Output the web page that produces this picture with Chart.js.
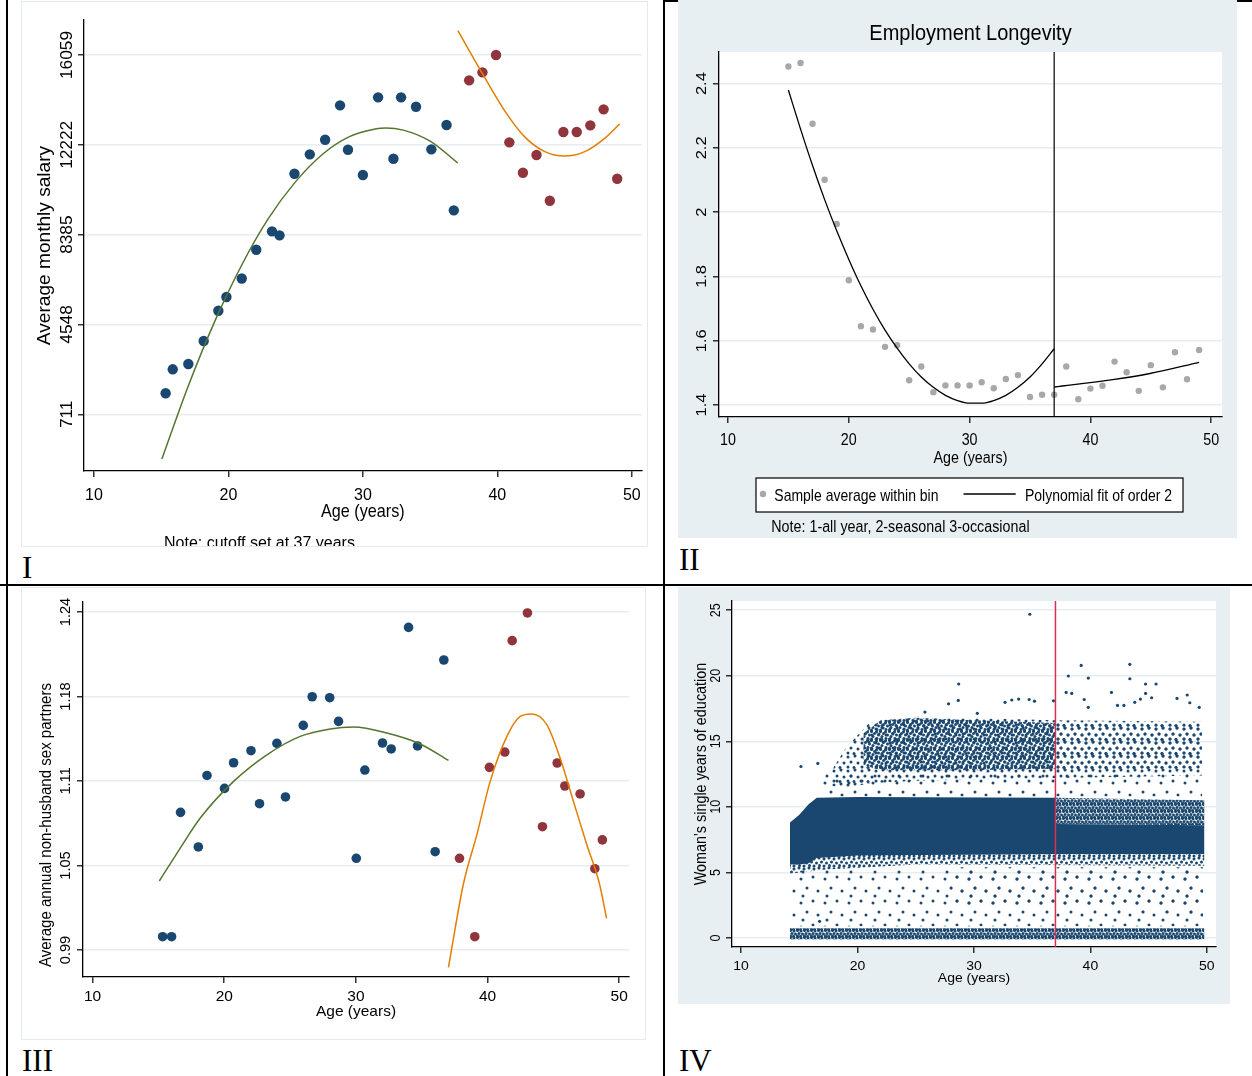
<!DOCTYPE html>
<html>
<head>
<meta charset="utf-8">
<title>Outcomes by age around the 37-year cutoff</title>
<script src="https://cdn.jsdelivr.net/npm/chart.js@4.4.1/dist/chart.umd.min.js"></script>
<style>
  html, body { margin: 0; padding: 0; background: #fff; }
  #sheet { position: relative; width: 1252px; height: 1076px; overflow: hidden; }
  .rule { position: absolute; background: #000; }
  canvas { position: absolute; }
  .plain { background: #fff; outline: 1px solid #e4ebee; }
  .tinted { background: #e8eff2; }
  .tag { position: absolute; font: 31px/1 'Liberation Serif', 'Times New Roman', serif; color: #000; }
</style>
</head>
<body>
<div id="sheet">
  <div class="rule" style="left:6px; top:0; width:2px; height:1076px"></div>
  <div class="rule" style="left:663px; top:0; width:2px; height:1076px"></div>
  <div class="rule" style="left:663px; top:0; width:589px; height:2px"></div>
  <div class="rule" style="left:0; top:584px; width:1252px; height:2px"></div>

  <canvas id="salary" class="plain" width="625" height="544" style="left:22px; top:2px"></canvas>
  <canvas id="longevity" class="tinted" width="559" height="538" style="left:678px; top:0"></canvas>
  <canvas id="partners" class="plain" width="623" height="451" style="left:22px; top:588px"></canvas>
  <canvas id="education" class="tinted" width="552" height="417" style="left:678px; top:587px"></canvas>

  <div class="tag" style="left:22px; top:552px">I</div>
  <div class="tag" style="left:679px; top:544px">II</div>
  <div class="tag" style="left:22px; top:1045px">III</div>
  <div class="tag" style="left:679px; top:1045px">IV</div>
</div>

<script>
// shared x axis (age in years)
var ageTicks = [10, 20, 30, 40, 50];
var ageLabels = ['10', '20', '30', '40', '50'];

// I - average monthly salary
var salaryTicks = [711, 4548, 8385, 12222, 16059];
var salaryAgesBefore = [15.33, 15.86, 17.02, 18.16, 19.25, 19.85, 20.99, 22.07, 23.24, 23.8, 24.91, 26.05, 27.19, 28.3, 28.89, 30.0, 31.13, 32.27, 32.84, 33.95, 35.09, 36.22, 36.76];
var salaryBefore = [1608, 2633, 2859, 3842, 5136, 5721, 6511, 7741, 8527, 8356, 10987, 11816, 12439, 13908, 12012, 10932, 14250, 11628, 14250, 13849, 12029, 13067, 9424];
var salaryAgesAfter = [37.9, 38.89, 39.9, 40.89, 41.9, 42.91, 43.9, 44.91, 45.9, 46.91, 47.9, 48.91];
var salaryAfter = [14976, 15318, 16057, 12328, 11030, 11786, 9834, 12768, 12768, 13054, 13738, 10774];
var salaryFitBefore = [[15.05, -1200], [17, 1900], [19, 4700], [21, 7100], [23, 9100], [25, 10650], [27, 11820], [29, 12570], [31, 12910], [31.7, 12940], [33, 12850], [35, 12380], [37.05, 11450]];
var salaryFitAfter = [[37.06, 17100], [38.9, 15250], [40.57, 13650], [42.05, 12550], [43.53, 11930], [45, 11740], [46.5, 11930], [47.98, 12500], [49.09, 13110]];

// II - employment longevity
var longevityTicks = [1.4, 1.6, 1.8, 2, 2.2, 2.4];
var longevityLabels = ['1.4', '1.6', '1.8', '2', '2.2', '2.4'];
var longevityAges = [15, 16, 17, 18, 19, 20, 21, 22, 23, 24, 25, 26, 27, 28, 29, 30, 31, 32, 33, 34, 35, 36, 37, 38, 39, 40, 41, 42, 43, 44, 45, 46, 47, 48, 49];
var longevity = [2.453, 2.464, 2.275, 2.101, 1.963, 1.788, 1.645, 1.635, 1.581, 1.586, 1.477, 1.520, 1.440, 1.461, 1.461, 1.461, 1.471, 1.452, 1.481, 1.493, 1.425, 1.432, 1.432, 1.520, 1.418, 1.451, 1.460, 1.535, 1.502, 1.444, 1.524, 1.455, 1.564, 1.480, 1.571];
var longevityFitBefore = [[15, 2.38], [16, 2.259], [17, 2.145], [18, 2.039], [19, 1.942], [20, 1.853], [21, 1.771], [22, 1.698], [23, 1.633], [24, 1.577], [25, 1.528], [26, 1.487],
  [27, 1.455], [28, 1.43], [29, 1.414], [30, 1.406], [31, 1.406], [32, 1.414], [33, 1.43], [34, 1.455], [35, 1.487], [36, 1.528], [37, 1.575]];
var longevityFitAfter = [[37, 1.456], [41.85, 1.479], [44.93, 1.498], [49, 1.533]];

// III - non-husband sex partners
var partnerTicks = [0.99, 1.0525, 1.115, 1.1775, 1.24];
var partnerLabels = ['0.99', '1.05', '1.11', '1.18', '1.24'];
var partnerAgesBefore = [15.32, 16.0, 16.68, 18.03, 18.69, 20.02, 20.71, 22.03, 22.68, 24.0, 24.65, 26.0, 26.68, 28.01, 28.68, 30.03, 30.68, 32.02, 32.68, 34.0, 34.68, 36.02, 36.68];
var partnersBefore = [0.9998, 0.9998, 1.0918, 1.0662, 1.1191, 1.1095, 1.1285, 1.1374, 1.0982, 1.1428, 1.1032, 1.1561, 1.1773, 1.1766, 1.1591, 1.0578, 1.1231, 1.1431, 1.1387, 1.2286, 1.1409, 1.0627, 1.2045];
var partnerAgesAfter = [37.87, 39.03, 40.14, 41.31, 41.87, 43.03, 44.17, 45.29, 45.87, 47.03, 48.15, 48.72];
var partnersAfter = [1.0578, 0.9998, 1.1251, 1.1364, 1.2188, 1.2393, 1.0812, 1.1283, 1.1113, 1.1054, 1.0501, 1.0714];
var partnerFitBefore = [[15.07, 1.041], [16.66, 1.0654], [18.18, 1.0876], [20.71, 1.1147], [23.24, 1.1344], [25.77, 1.148], [28.05, 1.1535], [29.82, 1.1549], [32.35, 1.1505], [34.88, 1.1424], [37.03, 1.1302]];
var partnerFitAfter = [[37.03, 0.9771], [38.17, 1.039], [39.19, 1.0753], [40.2, 1.1147], [41.47, 1.148], [42.48, 1.1628], [43.36, 1.1646], [44.5, 1.1567], [45.51, 1.132], [46.52, 1.10], [47.54, 1.0679], [48.5, 1.039], [49.04, 1.0134]];

// IV - years of education; the cloud is too dense to read dot by dot,
// so it is kept as bands [age, lower, upper] plus the stray points
var eduTicks = [0, 5, 10, 15, 20, 25];
var eduLabels = ['0', '5', '10', '15', '20', '25'];
var eduZeroRow = [[14.2, -0.12, 0.75], [49.8, -0.12, 0.75]];
var eduLowSpread = [[14.3, 0.9, 5.2], [49.7, 0.9, 5.2]];
var eduLowSpreadLate = [[28, 2.5, 5.4], [49.7, 1.8, 5.4]];
var eduCoreFringe = [[14.2, 4.9, 6.6], [17, 5.2, 6.6], [25, 5.6, 6.6], [49.8, 5.5, 6.6]];
var eduCoreEarly = [[14.2, 5.6, 8.8], [15, 5.6, 9.4], [15.8, 5.7, 10.2], [16.5, 6.1, 10.7], [20, 6.3, 10.75], [37, 6.4, 10.7]];
var eduCoreLate = [[37, 6.4, 8.7], [49.8, 6.4, 8.6]];
var eduUpperLate = [[37, 8.7, 10.7], [49.8, 8.6, 10.5]];
var eduHalo = [[17, 10.8, 12.6], [49.6, 10.8, 12.6]];
var eduClusterOuter = [[17.8, 11.6, 12.8], [19, 11.4, 14.5], [21, 11.8, 16.4], [25, 12.0, 16.9], [37, 12.2, 16.6], [49.6, 12.4, 16.5]];
var eduClusterCore = [[20.5, 13.2, 15.6], [22, 12.8, 16.6], [25, 12.8, 16.8], [30, 12.8, 16.6], [37, 12.9, 16.4]];
var eduClusterLate = [[37, 12.8, 16.4], [49.6, 13.0, 16.2]];
var eduStrays = [[34.8, 24.69], [39.21, 20.79], [43.39, 20.87], [38.11, 19.98], [39.82, 19.82], [43.39, 19.77], [28.69, 19.37], [45.64, 19.37], [44.74, 19.37],
  [37.92, 18.73], [38.4, 18.65], [41.81, 18.73], [47.44, 18.27], [48.32, 18.53], [27.82, 17.86], [28.65, 18.12], [32.67, 17.97], [33.25, 18.15],
  [33.84, 18.22], [34.74, 18.19], [35.2, 18.06], [36.83, 18.09], [39.47, 18.19], [39.82, 17.59], [42.33, 17.74], [42.88, 17.74], [43.81, 17.97],
  [44.3, 18.22], [44.74, 18.65], [45.26, 18.32], [48.54, 17.94], [49.35, 17.59], [25.79, 17.23], [30.29, 17.13], [15.14, 13.08], [16.59, 13.31], [16.74, 1.27]];

var CUTOFF = 37;

var FONT = "'Liberation Sans', Arial, Helvetica, sans-serif";
var NAVY = '#1a476f', MAROON = '#90353b', FOREST = '#55752f', ORANGE = '#e37e00', GRAY = '#a8a8a8';
var GRID = '#e7eef1';

// text is drawn by hand: the source pictures were stretched a bit
function putText(ctx, str, x, y, size, stretch, rotated, align) {
  ctx.save();
  ctx.translate(x, y);
  ctx.scale(1, stretch);
  if (rotated) ctx.rotate(-Math.PI / 2);
  ctx.font = size + 'px ' + FONT;
  ctx.textAlign = align || 'center';
  ctx.textBaseline = 'alphabetic';
  ctx.fillStyle = '#000';
  ctx.fillText(str, 0, 0);
  ctx.restore();
}

function panelText(spec) {
  return {
    id: 'panelText',
    beforeDraw: function(chart) {
      if (!spec.plotWhite) return;
      var a = chart.chartArea, ctx = chart.ctx;
      ctx.save();
      ctx.fillStyle = '#fff';
      ctx.fillRect(a.left, a.top, a.right - a.left, a.bottom - a.top);
      ctx.restore();
    },
    afterDatasetsDraw: function(chart) {
      if (spec.cutoffColor == null) return;
      var a = chart.chartArea, ctx = chart.ctx;
      var px = chart.scales.x.getPixelForValue(CUTOFF);
      ctx.save();
      ctx.strokeStyle = spec.cutoffColor;
      ctx.lineWidth = spec.cutoffWidth;
      ctx.beginPath();
      ctx.moveTo(px, a.top);
      ctx.lineTo(px, a.bottom);
      ctx.stroke();
      ctx.restore();
    },
    afterDraw: function(chart) {
      var ctx = chart.ctx, a = chart.chartArea, xs = chart.scales.x, ys = chart.scales.y;
      ys.ticks.forEach(function(t, i) {
        putText(ctx, spec.yLabels[i], a.left - spec.yGap, ys.getPixelForValue(t.value), spec.size, spec.stretch, true);
      });
      xs.ticks.forEach(function(t, i) {
        putText(ctx, ageLabels[i], xs.getPixelForValue(t.value), a.bottom + spec.xGap, spec.size, spec.stretch, false);
      });
      if (spec.yTitle) {
        var mid = spec.yTitle.mid != null ? spec.yTitle.mid : (a.top + a.bottom) / 2;
        putText(ctx, spec.yTitle.text, a.left - spec.yTitle.gap, mid, spec.yTitle.size, spec.stretch, true);
      }
      putText(ctx, 'Age (years)', (a.left + a.right) / 2, a.bottom + spec.xTitle.gap, spec.xTitle.size, spec.stretch, false);
      (spec.notes || []).forEach(function(n) {
        putText(ctx, n.text, n.x, n.y, n.size, n.stretch || spec.stretch, false, n.align);
      });
      if (spec.extra) spec.extra(ctx, chart);
    }
  };
}

function axis(range, ticks, extent, gridOn) {
  return {
    type: 'linear',
    min: range[0],
    max: range[1],
    afterBuildTicks: function(s) { s.ticks = ticks.map(function(v) { return { value: v }; }); },
    afterFit: function(s) { if (s.isHorizontal()) s.height = extent; else s.width = extent; },
    ticks: { display: false },
    grid: { drawOnChartArea: gridOn, color: GRID, lineWidth: 1.6, tickLength: 6, tickColor: '#000', tickWidth: 1.2 },
    border: { color: '#000', width: 1.3 }
  };
}

function fitLine(points, color, width) {
  return {
    data: points.map(function(p) { return { x: p[0], y: p[1] }; }),
    borderColor: color, borderWidth: width,
    pointRadius: 0, cubicInterpolationMode: 'monotone', fill: false
  };
}

function dots(ages, vals, color, r) {
  return {
    data: ages.map(function(a, i) { return { x: a, y: vals[i] }; }),
    showLine: false, pointRadius: r, pointBackgroundColor: color,
    pointBorderWidth: 0, borderColor: color
  };
}

function makeChart(id, spec, xRange, yRange, yTicks, datasets) {
  return new Chart(document.getElementById(id), {
    type: 'line',
    data: { datasets: datasets },
    options: {
      responsive: false,
      animation: false,
      events: [],
      layout: { padding: { left: 0, top: spec.top, right: spec.right, bottom: 0 } },
      plugins: { legend: { display: false }, tooltip: { enabled: false } },
      scales: {
        x: axis(xRange, ageTicks, spec.xh, false),
        y: axis(yRange, yTicks, spec.yw, true)
      }
    },
    plugins: [panelText(spec)]
  });
}

// I
makeChart('salary', {
  top: 18, right: 3, yw: 62, xh: 75,
  size: 16, stretch: 1.08, yGap: 12.3, xGap: 29,
  yLabels: salaryTicks.map(String),
  yTitle: { text: 'Average monthly salary', gap: 34.4, size: 17.7 },
  xTitle: { gap: 46, size: 16.2 },
  notes: [{ text: 'Note: cutoff set at 37 years', x: 142, y: 545.6, size: 16, align: 'left' }]
}, [9.26, 50.74], [-1711, 17554], salaryTicks, [
  fitLine(salaryFitBefore, FOREST, 1.5),
  fitLine(salaryFitAfter, ORANGE, 1.5),
  dots(salaryAgesBefore, salaryBefore, NAVY, 5.2),
  dots(salaryAgesAfter, salaryAfter, MAROON, 5.2)
]);

// II
makeChart('longevity', {
  top: 52, right: 15, yw: 41, xh: 121,
  size: 14.3, stretch: 1.15, yGap: 12.6, xGap: 28.3,
  plotWhite: true, cutoffColor: '#000', cutoffWidth: 1.2,
  yLabels: longevityLabels,
  xTitle: { gap: 45.8, size: 14.3 },
  notes: [
    { text: 'Employment Longevity', x: 292.5, y: 40, size: 20, stretch: 1.07 },
    { text: 'Note: 1-all year, 2-seasonal 3-occasional', x: 93.3, y: 531.5, size: 14.3, align: 'left' }
  ],
  extra: function(ctx) {
    ctx.save();
    ctx.fillStyle = '#fff';
    ctx.fillRect(78, 478, 427, 34);
    ctx.strokeStyle = '#000';
    ctx.lineWidth = 1.2;
    ctx.strokeRect(78, 478, 427, 34);
    ctx.fillStyle = GRAY;
    ctx.beginPath();
    ctx.arc(85, 494, 3.2, 0, 2 * Math.PI);
    ctx.fill();
    ctx.lineWidth = 1.3;
    ctx.beginPath();
    ctx.moveTo(285.5, 494);
    ctx.lineTo(337.7, 494);
    ctx.stroke();
    ctx.restore();
    putText(ctx, 'Sample average within bin', 96.3, 500.5, 14, 1.15, false, 'left');
    putText(ctx, 'Polynomial fit of order 2', 347, 500.5, 14, 1.15, false, 'left');
  }
}, [9.255, 50.894], [1.3627, 2.4983], longevityTicks, [
  fitLine(longevityFitBefore, '#000', 1.3),
  fitLine(longevityFitAfter, '#000', 1.3),
  dots(longevityAges, longevity, GRAY, 3.2)
]);

// III
makeChart('partners', {
  top: 14, right: 16, yw: 61, xh: 62,
  size: 15.5, stretch: 0.94, yGap: 12.7, xGap: 24.4,
  yLabels: partnerLabels,
  yTitle: { text: 'Average annual non-husband sex partners', gap: 31.9, size: 16, mid: 237 },
  xTitle: { gap: 39, size: 15.5 }
}, [9.271, 50.744], [0.970, 1.2474], partnerTicks, [
  fitLine(partnerFitBefore, FOREST, 1.5),
  fitLine(partnerFitAfter, ORANGE, 1.5),
  dots(partnerAgesBefore, partnersBefore, NAVY, 4.8),
  dots(partnerAgesAfter, partnersAfter, MAROON, 4.8)
]);

// IV - dot textures for the dense cloud
var eduCanvas = document.getElementById('education');
var eduCtx = eduCanvas.getContext('2d');
var TILES = {
  heavy:  { size: 7,  dots: [[0.5, 0.5], [4, 1], [2, 3.5], [5.5, 4], [0.5, 6], [3.5, 6.3]] },
  dense:  { size: 9,  dots: [[0.5, 1], [4.5, 0.5], [7.5, 2.5], [2.5, 4], [6, 5.5], [1, 7.5], [4.5, 8]] },
  medium: { size: 10, dots: [[1, 1], [6, 2], [3.5, 5], [8.5, 6], [1.5, 8.5], [6, 9]] },
  light:  { size: 14, dots: [[2, 2], [9, 1], [5, 7], [12, 8], [2, 12], [8, 12.5]] },
  sparse: { size: 24, dots: [[3, 4], [15, 2], [9, 13], [20, 16], [5, 21]] }
};
function dotPattern(name) {
  var t = TILES[name];
  var c = document.createElement('canvas');
  c.width = t.size; c.height = t.size;
  var g = c.getContext('2d');
  g.fillStyle = NAVY;
  t.dots.forEach(function(d) {
    for (var i = -1; i <= 1; i++) {
      for (var j = -1; j <= 1; j++) {
        g.beginPath();
        g.arc(d[0] + i * t.size, d[1] + j * t.size, 1.5, 0, 2 * Math.PI);
        g.fill();
      }
    }
  });
  return eduCtx.createPattern(c, 'repeat');
}

function band(rows, fillStyle) {
  var lower = {
    data: rows.map(function(r) { return { x: r[0], y: r[1] }; }),
    pointRadius: 0, borderWidth: 0, borderColor: 'rgba(0,0,0,0)', fill: false
  };
  var upper = {
    data: rows.map(function(r) { return { x: r[0], y: r[2] }; }),
    pointRadius: 0, borderWidth: 0, borderColor: 'rgba(0,0,0,0)',
    fill: '-1', backgroundColor: fillStyle
  };
  return [lower, upper];
}

var eduSets = [dots(eduStrays.map(function(p) { return p[0]; }), eduStrays.map(function(p) { return p[1]; }), NAVY, 1.6)]
  .concat(band(eduClusterCore, dotPattern('dense')))
  .concat(band(eduClusterLate, dotPattern('light')))
  .concat(band(eduClusterOuter, dotPattern('light')))
  .concat(band(eduHalo, dotPattern('sparse')))
  .concat(band(eduCoreEarly, NAVY))
  .concat(band(eduCoreLate, NAVY))
  .concat(band(eduUpperLate, dotPattern('heavy')))
  .concat(band(eduCoreFringe, dotPattern('medium')))
  .concat(band(eduLowSpreadLate, dotPattern('sparse')))
  .concat(band(eduLowSpread, dotPattern('sparse')))
  .concat(band(eduZeroRow, dotPattern('heavy')));

makeChart('education', {
  top: 14, right: 14, yw: 54, xh: 57,
  size: 14, stretch: 0.9, yGap: 12, xGap: 22.6,
  plotWhite: true, cutoffColor: '#d8304e', cutoffWidth: 1.5,
  yLabels: eduLabels,
  yTitle: { text: "Woman's single years of education", gap: 26.4, size: 16 },
  xTitle: { gap: 34.8, size: 14 }
}, [9.218, 50.79], [-0.687, 25.7], eduTicks, eduSets);
</script>
</body>
</html>
